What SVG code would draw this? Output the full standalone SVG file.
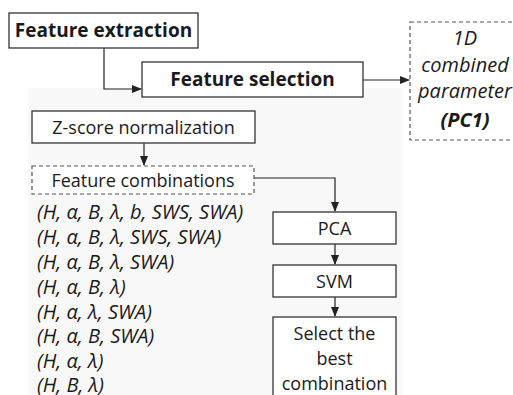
<svg xmlns="http://www.w3.org/2000/svg" width="513" height="395" viewBox="0 0 513 395">
<defs>
<style>
.box{fill:#fff;stroke:#333;stroke-width:1.3}
.dash{fill:#fff;stroke:#555;stroke-width:1.2;stroke-dasharray:4 3}
.t{font-family:"Open Sans",sans-serif;font-size:18px;fill:#1a1a1a;text-anchor:middle}
.b{font-weight:bold;font-size:19px}
.i{font-style:italic;font-size:20px;text-anchor:start}
.p{font-style:italic;font-size:20px}
.c{fill:none;stroke:#222;stroke-width:1.2;marker-end:url(#ah)}
</style>
<marker id="ah" markerWidth="10" markerHeight="8" refX="9" refY="4" orient="auto" markerUnits="userSpaceOnUse">
<path d="M0,0 L10,4 L0,8 z" fill="#222"/>
</marker>
</defs>
<rect width="513" height="395" fill="#fff"/>
<rect x="28" y="88" width="375" height="307" fill="#f8f8f8"/>
<g id="connectors">
<path class="c" d="M104,48 V89 H141"/>
<path class="c" d="M363,80 H409"/>
<path class="c" d="M144,143 V165"/>
<path class="c" d="M254,178 H335 V211"/>
<path class="c" d="M335,244 V264"/>
<path class="c" d="M335,297 V316"/>
</g>
<g id="feature-extraction">
<rect class="box" x="9" y="13" width="189" height="35"/>
<text class="t b" x="103.5" y="37">Feature extraction</text>
</g>
<g id="feature-selection">
<rect class="box" x="142" y="62" width="221" height="35"/>
<text class="t b" x="252.5" y="86">Feature selection</text>
</g>
<g id="pc1">
<rect class="dash" x="410" y="22" width="110" height="118"/>
<text class="t p" x="465" y="45">1D</text>
<text class="t p" x="465" y="72">combined</text>
<text class="t p" x="465" y="98">parameter</text>
<text class="t p" style="font-weight:bold" x="465" y="127">(PC1)</text>
</g>
<g id="zscore">
<rect class="box" x="32" y="111" width="223" height="32"/>
<text class="t" x="143.5" y="133.5">Z-score normalization</text>
</g>
<g id="feature-combinations">
<rect class="dash" x="32" y="166" width="222" height="28"/>
<text class="t" x="143" y="186.5">Feature combinations</text>
</g>
<g id="combination-list">
<text class="t i" x="37" y="219">(H, α, B, λ, b, SWS, SWA)</text>
<text class="t i" x="37" y="244">(H, α, B, λ, SWS, SWA)</text>
<text class="t i" x="37" y="269">(H, α, B, λ, SWA)</text>
<text class="t i" x="37" y="294">(H, α, B, λ)</text>
<text class="t i" x="37" y="319">(H, α, λ, SWA)</text>
<text class="t i" x="37" y="343">(H, α, B, SWA)</text>
<text class="t i" x="37" y="368">(H, α, λ)</text>
<text class="t i" x="37" y="392">(H, B, λ)</text>
</g>
<g id="pca">
<rect class="box" x="273" y="212" width="123" height="32"/>
<text class="t" x="334.5" y="234.5">PCA</text>
</g>
<g id="svm">
<rect class="box" x="273" y="265" width="123" height="32"/>
<text class="t" x="334.5" y="287.5">SVM</text>
</g>
<g id="select">
<rect class="box" x="273" y="317" width="123" height="90"/>
<text class="t" x="334.5" y="340">Select the</text>
<text class="t" x="334.5" y="365">best</text>
<text class="t" x="334.5" y="390">combination</text>
</g>
</svg>
